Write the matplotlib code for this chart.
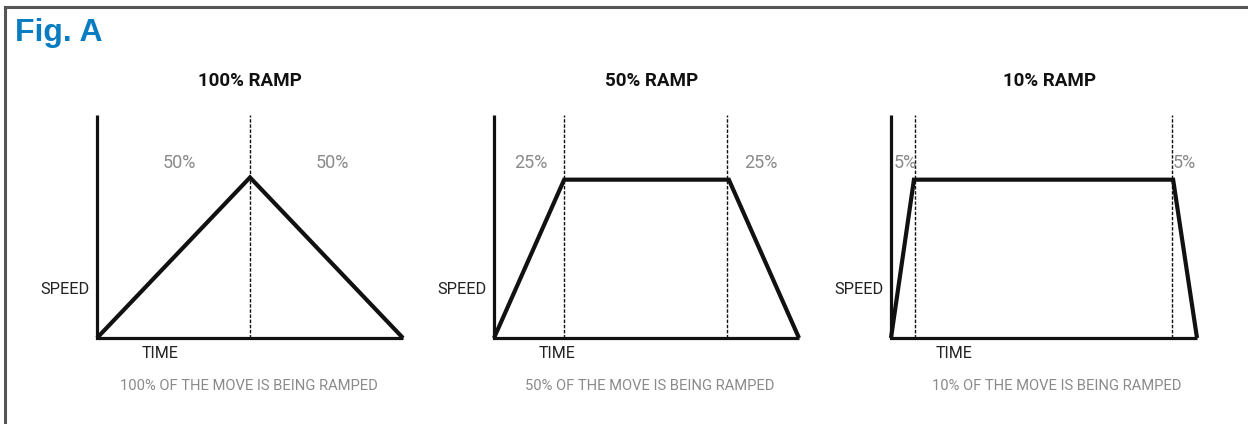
import matplotlib.pyplot as plt
from matplotlib.lines import Line2D

# ramp profiles, time in % of the move, speed as fraction of axis height
titles = ["100% RAMP", "50% RAMP", "10% RAMP"]
captions = ["100% OF THE MOVE IS BEING RAMPED",
            "50% OF THE MOVE IS BEING RAMPED",
            "10% OF THE MOVE IS BEING RAMPED"]
profile_t = [[0, 50, 100], [0, 23, 77, 100], [0, 7.5, 92.2, 100]]
profile_v = [[0, 0.72, 0], [0, 0.71, 0.71, 0], [0, 0.71, 0.71, 0]]
dash_t = [[50], [23, 76.5], [7.8, 91.8]]
pct_labels = [["50%", "50%"], ["25%", "25%"], ["5%", "5%"]]
pct_pos = [[27, 77], [12, 87.5], [4.6, 96]]

W, H = 1248, 424
fig = plt.figure(figsize=(W / 100, H / 100), dpi=100)

narrow = ['Roboto', 'DejaVu Sans']

# outer frame: top and left edges only
fig.add_artist(Line2D([5 / W, 1], [1 - 7 / H, 1 - 7 / H], color='#555555', lw=2.2,
                      transform=fig.transFigure))
fig.add_artist(Line2D([5 / W, 5 / W], [0, 1 - 7 / H], color='#555555', lw=2.2,
                      transform=fig.transFigure))
fig.text(15 / W, 1 - 41 / H, "Fig. A", color='#0a7cc1', fontsize=23, fontweight='bold',
         family='Liberation Sans', va='baseline')

x_left = [97, 494, 891]
x_right = [403, 799, 1197]
title_x = [250, 652, 1050]
caption_x = [249, 650, 1057]
y_top, y_bot = 115, 338

for i in range(3):
    ax = fig.add_axes([x_left[i] / W, 1 - y_bot / H, (x_right[i] - x_left[i]) / W,
                       (y_bot - y_top) / H])
    ax.set_xlim(0, 100)
    ax.set_ylim(0, 1)
    ax.axis('off')
    # axes drawn as lines
    ax.plot([0, 0, 100], [1, 0, 0], color='#111111', lw=2.3, solid_capstyle='butt',
            solid_joinstyle='miter', clip_on=False)
    for t in dash_t[i]:
        ax.plot([t, t], [0, 1], color='#111111', lw=1.0, ls=(0, (2.5, 1.2)), clip_on=False)
    ax.plot(profile_t[i], profile_v[i], color='#111111', lw=3.0, solid_joinstyle='miter',
            solid_capstyle='butt', clip_on=False)
    for lab, p in zip(pct_labels[i], pct_pos[i]):
        ax.text(p, 0.785, lab, color='#8a8a8a', fontsize=13, family=narrow,
                ha='center', va='center')
    fig.text(title_x[i] / W, 1 - 81 / H, titles[i], fontsize=13.5, fontweight='bold',
             family=narrow, ha='center', va='center', color='#111111')
    fig.text((x_left[i] - 7) / W, 1 - 290 / H, "SPEED", fontsize=11.8, family=narrow,
             ha='right', va='center', color='#222222')
    fig.text((x_left[i] + 63) / W, 1 - 353 / H, "TIME", fontsize=11.5, family=narrow,
             ha='center', va='center', color='#222222')
    fig.text(caption_x[i] / W, 1 - 386 / H, captions[i], fontsize=10.6, family=narrow,
             ha='center', va='center', color='#8a8a8a')

fig.savefig('out.png', dpi=100)
